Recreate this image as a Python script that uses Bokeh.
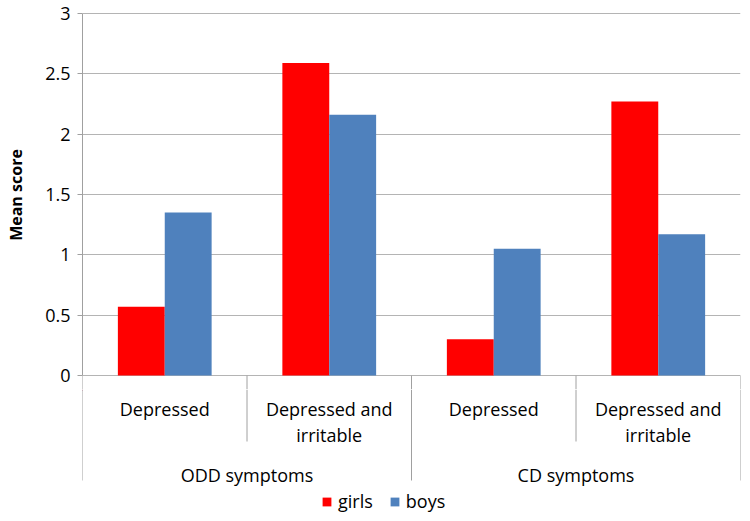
import textwrap
from bokeh.plotting import figure
from bokeh.layouts import column
from bokeh.models import ColumnDataSource, FixedTicker, Range1d, Legend, LegendItem
from bokeh.core.properties import value
from bokeh.embed import file_html
from bokeh.resources import INLINE

# ---------------- data ----------------
groups = ["ODD symptoms", "CD symptoms"]
subcategories = ["Depressed", "Depressed and irritable"]
series_names = ["girls", "boys"]
girls = [0.57, 2.59, 0.30, 2.27]
boys = [1.35, 2.16, 1.05, 1.17]
y_ticks = [0, 0.5, 1, 1.5, 2, 2.5, 3]
y_tick_labels = ["0", "0.5", "1", "1.5", "2", "2.5", "3"]
y_axis_title = "Mean score"

# ---------------- style / layout ----------------
colors = ["#FF0000", "#4F81BD"]
grid_color = "#B4B4B4"
axis_color = "#A0A0A0"
FONT = "Open Sans"
W, H = 742, 513
LEFT, RIGHT = 82, 2
TOP3 = 13           # figure px of the y=3 line
ZERO = 375          # figure px of the zero line
H1 = ZERO + 14      # upper figure (value area)
H2 = H - H1         # lower figure (category axis + legend)
ppu = (ZERO - TOP3) / y_ticks[-1]
y_start = -(H1 - ZERO) / ppu
y_end = y_ticks[-1] + TOP3 / ppu

categories = [(g, s) for g in groups for s in subcategories]
n_cat = len(categories)
cat_centers = [i + 0.5 for i in range(n_cat)]
bw = 0.285
n_sub = len(subcategories)
group_edges = [i * n_sub for i in range(len(groups) + 1)]
sub_edges = [i for i in range(n_cat + 1) if i % n_sub != 0]
all_edges = sorted(group_edges + sub_edges)

x_range = Range1d(0, n_cat)

# ---------------- upper figure: bars ----------------
p = figure(width=W, height=H1, output_backend="svg", toolbar_location=None,
           x_range=x_range, y_range=Range1d(y_start, y_end),
           x_axis_location=None, min_border_left=LEFT, min_border_right=RIGHT,
           min_border_top=0, min_border_bottom=0)
p.outline_line_color = None
p.xgrid.visible = False
p.ygrid.ticker = FixedTicker(ticks=y_ticks)
p.ygrid.grid_line_color = grid_color
p.ygrid.grid_line_width = 1

ax = p.yaxis[0]
ax.ticker = FixedTicker(ticks=y_ticks)
ax.bounds = (y_ticks[0], y_ticks[-1])
ax.major_label_overrides = {t: l for t, l in zip(y_ticks, y_tick_labels)}
ax.axis_line_color = axis_color
ax.major_tick_line_color = axis_color
ax.major_tick_out = 5
ax.major_tick_in = 0
ax.minor_tick_line_color = None
ax.major_label_standoff = 7
ax.major_label_text_font = FONT
ax.major_label_text_font_size = "18px"
ax.major_label_text_color = "black"
ax.axis_label = y_axis_title
ax.axis_label_text_font = FONT
ax.axis_label_text_font_size = "16px"
ax.axis_label_text_font_style = "bold"
ax.axis_label_text_color = "black"
ax.axis_label_standoff = 15

src = ColumnDataSource(dict(
    xg=[c - bw / 2 for c in cat_centers],
    xb=[c + bw / 2 for c in cat_centers],
    girls=girls, boys=boys))
p.vbar(x="xg", top="girls", bottom=0, width=bw, source=src,
       fill_color=colors[0], line_color=None)
p.vbar(x="xb", top="boys", bottom=0, width=bw, source=src,
       fill_color=colors[1], line_color=None)
p.segment(x0=all_edges, y0=[0] * len(all_edges), x1=all_edges,
          y1=[y_start] * len(all_edges), line_color=axis_color, line_width=1)

# ---------------- lower figure: category axis + legend ----------------
# y here is measured in pixels below the zero line (negative downwards)
top_y = -(H1 - ZERO)
q = figure(width=W, height=H2, output_backend="svg", toolbar_location=None,
           x_range=x_range, y_range=Range1d(top_y - H2, top_y),
           x_axis_location=None, y_axis_location=None,
           min_border_left=LEFT, min_border_right=RIGHT,
           min_border_top=0, min_border_bottom=0)
q.outline_line_color = None
q.grid.visible = False

q.segment(x0=group_edges, y0=[top_y] * len(group_edges), x1=group_edges,
          y1=[-105] * len(group_edges), line_color=axis_color, line_width=1)
q.segment(x0=sub_edges, y0=[top_y] * len(sub_edges), x1=sub_edges,
          y1=[-66] * len(sub_edges), line_color=axis_color, line_width=1)

lx, ly, lt = [], [], []
for c, (g, s) in zip(cat_centers, categories):
    for k, line in enumerate(textwrap.wrap(s, width=14)):
        lx.append(c)
        ly.append(-(33 + 26 * k))
        lt.append(line)
q.text(x=lx, y=ly, text=lt, text_align="center", text_baseline="alphabetic",
       text_font=value(FONT), text_font_size="18px", text_color="black")

gx = [(group_edges[i] + group_edges[i + 1]) / 2 for i in range(len(groups))]
q.text(x=gx, y=[-99] * len(groups), text=groups, text_align="center",
       text_baseline="alphabetic", text_font=value(FONT), text_font_size="18px",
       text_color="black")

# legend swatch proxies, placed outside the visible x range
lg_g = q.vbar(x=[-1], top=[top_y], bottom=top_y - 1, width=bw,
              fill_color=colors[0], line_color=None)
lg_b = q.vbar(x=[-1], top=[top_y], bottom=top_y - 1, width=bw,
              fill_color=colors[1], line_color=None)
legend = Legend(items=[LegendItem(label=series_names[0], renderers=[lg_g]),
                       LegendItem(label=series_names[1], renderers=[lg_b])],
                orientation="horizontal", location=(239, 0), padding=0, margin=0,
                spacing=16, label_standoff=6, glyph_width=11, glyph_height=11,
                label_height=18, label_text_font=FONT, label_text_font_size="18px",
                label_text_color="black", border_line_color=None,
                background_fill_alpha=0)
q.add_layout(legend)

layout = column(p, q, spacing=0)
open("out.html", "w").write(file_html(layout, INLINE))
